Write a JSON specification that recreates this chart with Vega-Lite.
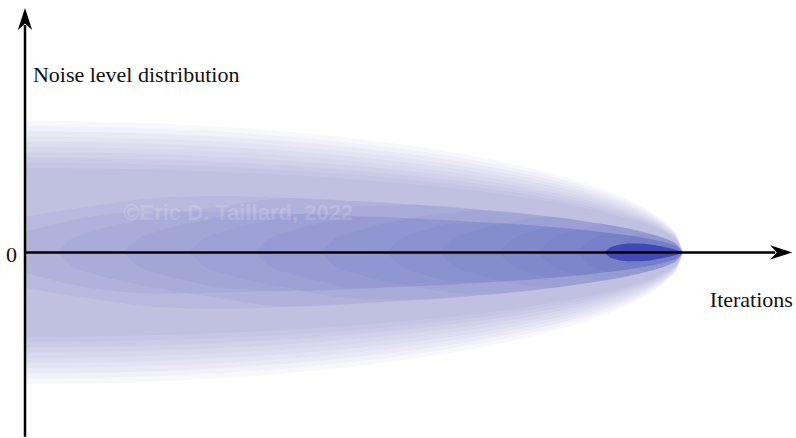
{
  "$schema": "https://vega.github.io/schema/vega-lite/v6.json",
  "width": 796,
  "height": 438,
  "padding": 0,
  "autosize": {"type": "fit", "contains": "padding"},
  "config": {"view": {"stroke": null}},
  "datasets": {
    "bands": [
      {"l":"O01","g":"o","x":0,"y":100,"lo":-100},{"l":"O01","g":"o","x":10,"y":99.5,"lo":-99.5},{"l":"O01","g":"o","x":20,"y":98,"lo":-98},{"l":"O01","g":"o","x":30,"y":95.4,"lo":-95.4},{"l":"O01","g":"o","x":40,"y":91.7,"lo":-91.7},{"l":"O01","g":"o","x":50,"y":86.6,"lo":-86.6},{"l":"O01","g":"o","x":60,"y":80,"lo":-80},{"l":"O01","g":"o","x":70,"y":71.4,"lo":-71.4},{"l":"O01","g":"o","x":80,"y":60,"lo":-60},{"l":"O01","g":"o","x":85,"y":52.7,"lo":-52.7},{"l":"O01","g":"o","x":90,"y":43.6,"lo":-43.6},{"l":"O01","g":"o","x":93,"y":36.8,"lo":-36.8},{"l":"O01","g":"o","x":96,"y":28,"lo":-28},{"l":"O01","g":"o","x":98,"y":19.9,"lo":-19.9},{"l":"O01","g":"o","x":99,"y":14.1,"lo":-14.1},{"l":"O01","g":"o","x":100,"y":0,"lo":0},
      {"l":"O02","g":"o","x":0,"y":96,"lo":-96},{"l":"O02","g":"o","x":10,"y":95.5,"lo":-95.5},{"l":"O02","g":"o","x":20,"y":94.1,"lo":-94.1},{"l":"O02","g":"o","x":30,"y":91.6,"lo":-91.6},{"l":"O02","g":"o","x":40,"y":88,"lo":-88},{"l":"O02","g":"o","x":50,"y":83.1,"lo":-83.1},{"l":"O02","g":"o","x":60,"y":76.8,"lo":-76.8},{"l":"O02","g":"o","x":70,"y":68.5,"lo":-68.5},{"l":"O02","g":"o","x":80,"y":57.6,"lo":-57.6},{"l":"O02","g":"o","x":85,"y":50.6,"lo":-50.6},{"l":"O02","g":"o","x":90,"y":41.9,"lo":-41.9},{"l":"O02","g":"o","x":93,"y":35.3,"lo":-35.3},{"l":"O02","g":"o","x":96,"y":26.9,"lo":-26.9},{"l":"O02","g":"o","x":98,"y":19.1,"lo":-19.1},{"l":"O02","g":"o","x":99,"y":13.5,"lo":-13.5},{"l":"O02","g":"o","x":100,"y":0,"lo":0},
      {"l":"O03","g":"o","x":0,"y":92,"lo":-92},{"l":"O03","g":"o","x":10,"y":91.5,"lo":-91.5},{"l":"O03","g":"o","x":20,"y":90.2,"lo":-90.2},{"l":"O03","g":"o","x":30,"y":87.8,"lo":-87.8},{"l":"O03","g":"o","x":40,"y":84.4,"lo":-84.4},{"l":"O03","g":"o","x":50,"y":79.7,"lo":-79.7},{"l":"O03","g":"o","x":60,"y":73.6,"lo":-73.6},{"l":"O03","g":"o","x":70,"y":65.7,"lo":-65.7},{"l":"O03","g":"o","x":80,"y":55.2,"lo":-55.2},{"l":"O03","g":"o","x":85,"y":48.5,"lo":-48.5},{"l":"O03","g":"o","x":90,"y":40.1,"lo":-40.1},{"l":"O03","g":"o","x":93,"y":33.9,"lo":-33.9},{"l":"O03","g":"o","x":96,"y":25.8,"lo":-25.8},{"l":"O03","g":"o","x":98,"y":18.3,"lo":-18.3},{"l":"O03","g":"o","x":99,"y":13,"lo":-13},{"l":"O03","g":"o","x":100,"y":0,"lo":0},
      {"l":"O04","g":"o","x":0,"y":88,"lo":-88},{"l":"O04","g":"o","x":10,"y":87.6,"lo":-87.6},{"l":"O04","g":"o","x":20,"y":86.2,"lo":-86.2},{"l":"O04","g":"o","x":30,"y":84,"lo":-84},{"l":"O04","g":"o","x":40,"y":80.7,"lo":-80.7},{"l":"O04","g":"o","x":50,"y":76.2,"lo":-76.2},{"l":"O04","g":"o","x":60,"y":70.4,"lo":-70.4},{"l":"O04","g":"o","x":70,"y":62.8,"lo":-62.8},{"l":"O04","g":"o","x":80,"y":52.8,"lo":-52.8},{"l":"O04","g":"o","x":85,"y":46.4,"lo":-46.4},{"l":"O04","g":"o","x":90,"y":38.4,"lo":-38.4},{"l":"O04","g":"o","x":93,"y":32.4,"lo":-32.4},{"l":"O04","g":"o","x":96,"y":24.6,"lo":-24.6},{"l":"O04","g":"o","x":98,"y":17.5,"lo":-17.5},{"l":"O04","g":"o","x":99,"y":12.4,"lo":-12.4},{"l":"O04","g":"o","x":100,"y":0,"lo":0},
      {"l":"O05","g":"o","x":0,"y":84,"lo":-84},{"l":"O05","g":"o","x":10,"y":83.6,"lo":-83.6},{"l":"O05","g":"o","x":20,"y":82.3,"lo":-82.3},{"l":"O05","g":"o","x":30,"y":80.1,"lo":-80.1},{"l":"O05","g":"o","x":40,"y":77,"lo":-77},{"l":"O05","g":"o","x":50,"y":72.7,"lo":-72.7},{"l":"O05","g":"o","x":60,"y":67.2,"lo":-67.2},{"l":"O05","g":"o","x":70,"y":60,"lo":-60},{"l":"O05","g":"o","x":80,"y":50.4,"lo":-50.4},{"l":"O05","g":"o","x":85,"y":44.3,"lo":-44.3},{"l":"O05","g":"o","x":90,"y":36.6,"lo":-36.6},{"l":"O05","g":"o","x":93,"y":30.9,"lo":-30.9},{"l":"O05","g":"o","x":96,"y":23.5,"lo":-23.5},{"l":"O05","g":"o","x":98,"y":16.7,"lo":-16.7},{"l":"O05","g":"o","x":99,"y":11.8,"lo":-11.8},{"l":"O05","g":"o","x":100,"y":0,"lo":0},
      {"l":"O06","g":"o","x":0,"y":80,"lo":-80},{"l":"O06","g":"o","x":10,"y":79.6,"lo":-79.6},{"l":"O06","g":"o","x":20,"y":78.4,"lo":-78.4},{"l":"O06","g":"o","x":30,"y":76.3,"lo":-76.3},{"l":"O06","g":"o","x":40,"y":73.4,"lo":-73.4},{"l":"O06","g":"o","x":50,"y":69.3,"lo":-69.3},{"l":"O06","g":"o","x":60,"y":64,"lo":-64},{"l":"O06","g":"o","x":70,"y":57.1,"lo":-57.1},{"l":"O06","g":"o","x":80,"y":48,"lo":-48},{"l":"O06","g":"o","x":85,"y":42.2,"lo":-42.2},{"l":"O06","g":"o","x":90,"y":34.9,"lo":-34.9},{"l":"O06","g":"o","x":93,"y":29.4,"lo":-29.4},{"l":"O06","g":"o","x":96,"y":22.4,"lo":-22.4},{"l":"O06","g":"o","x":98,"y":15.9,"lo":-15.9},{"l":"O06","g":"o","x":99,"y":11.3,"lo":-11.3},{"l":"O06","g":"o","x":100,"y":0,"lo":0},
      {"l":"O07","g":"o","x":0,"y":76,"lo":-76},{"l":"O07","g":"o","x":10,"y":75.6,"lo":-75.6},{"l":"O07","g":"o","x":20,"y":74.5,"lo":-74.5},{"l":"O07","g":"o","x":30,"y":72.5,"lo":-72.5},{"l":"O07","g":"o","x":40,"y":69.7,"lo":-69.7},{"l":"O07","g":"o","x":50,"y":65.8,"lo":-65.8},{"l":"O07","g":"o","x":60,"y":60.8,"lo":-60.8},{"l":"O07","g":"o","x":70,"y":54.3,"lo":-54.3},{"l":"O07","g":"o","x":80,"y":45.6,"lo":-45.6},{"l":"O07","g":"o","x":85,"y":40.1,"lo":-40.1},{"l":"O07","g":"o","x":90,"y":33.1,"lo":-33.1},{"l":"O07","g":"o","x":93,"y":28,"lo":-28},{"l":"O07","g":"o","x":96,"y":21.3,"lo":-21.3},{"l":"O07","g":"o","x":98,"y":15.1,"lo":-15.1},{"l":"O07","g":"o","x":99,"y":10.7,"lo":-10.7},{"l":"O07","g":"o","x":100,"y":0,"lo":0},
      {"l":"O08","g":"o","x":0,"y":72,"lo":-72},{"l":"O08","g":"o","x":10,"y":71.6,"lo":-71.6},{"l":"O08","g":"o","x":20,"y":70.6,"lo":-70.6},{"l":"O08","g":"o","x":30,"y":68.7,"lo":-68.7},{"l":"O08","g":"o","x":40,"y":66,"lo":-66},{"l":"O08","g":"o","x":50,"y":62.4,"lo":-62.4},{"l":"O08","g":"o","x":60,"y":57.6,"lo":-57.6},{"l":"O08","g":"o","x":70,"y":51.4,"lo":-51.4},{"l":"O08","g":"o","x":80,"y":43.2,"lo":-43.2},{"l":"O08","g":"o","x":85,"y":37.9,"lo":-37.9},{"l":"O08","g":"o","x":90,"y":31.4,"lo":-31.4},{"l":"O08","g":"o","x":93,"y":26.5,"lo":-26.5},{"l":"O08","g":"o","x":96,"y":20.2,"lo":-20.2},{"l":"O08","g":"o","x":98,"y":14.3,"lo":-14.3},{"l":"O08","g":"o","x":99,"y":10.2,"lo":-10.2},{"l":"O08","g":"o","x":100,"y":0,"lo":0},
      {"l":"O09","g":"o","x":0,"y":68,"lo":-68},{"l":"O09","g":"o","x":10,"y":67.7,"lo":-67.7},{"l":"O09","g":"o","x":20,"y":66.6,"lo":-66.6},{"l":"O09","g":"o","x":30,"y":64.9,"lo":-64.9},{"l":"O09","g":"o","x":40,"y":62.4,"lo":-62.4},{"l":"O09","g":"o","x":50,"y":58.9,"lo":-58.9},{"l":"O09","g":"o","x":60,"y":54.4,"lo":-54.4},{"l":"O09","g":"o","x":70,"y":48.6,"lo":-48.6},{"l":"O09","g":"o","x":80,"y":40.8,"lo":-40.8},{"l":"O09","g":"o","x":85,"y":35.8,"lo":-35.8},{"l":"O09","g":"o","x":90,"y":29.6,"lo":-29.6},{"l":"O09","g":"o","x":93,"y":25,"lo":-25},{"l":"O09","g":"o","x":96,"y":19,"lo":-19},{"l":"O09","g":"o","x":98,"y":13.5,"lo":-13.5},{"l":"O09","g":"o","x":99,"y":9.6,"lo":-9.6},{"l":"O09","g":"o","x":100,"y":0,"lo":0},
      {"l":"O10","g":"o","x":0,"y":64,"lo":-64},{"l":"O10","g":"o","x":10,"y":63.7,"lo":-63.7},{"l":"O10","g":"o","x":20,"y":62.7,"lo":-62.7},{"l":"O10","g":"o","x":30,"y":61.1,"lo":-61.1},{"l":"O10","g":"o","x":40,"y":58.7,"lo":-58.7},{"l":"O10","g":"o","x":50,"y":55.4,"lo":-55.4},{"l":"O10","g":"o","x":60,"y":51.2,"lo":-51.2},{"l":"O10","g":"o","x":70,"y":45.7,"lo":-45.7},{"l":"O10","g":"o","x":80,"y":38.4,"lo":-38.4},{"l":"O10","g":"o","x":85,"y":33.7,"lo":-33.7},{"l":"O10","g":"o","x":90,"y":27.9,"lo":-27.9},{"l":"O10","g":"o","x":93,"y":23.6,"lo":-23.6},{"l":"O10","g":"o","x":96,"y":17.9,"lo":-17.9},{"l":"O10","g":"o","x":98,"y":12.7,"lo":-12.7},{"l":"O10","g":"o","x":99,"y":9,"lo":-9},{"l":"O10","g":"o","x":100,"y":0,"lo":0},
      {"l":"J01","g":"i","x":0,"y":27.1,"lo":-27.1},{"l":"J01","g":"i","x":10,"y":35,"lo":-35},{"l":"J01","g":"i","x":20,"y":41.4,"lo":-41.4},{"l":"J01","g":"i","x":30,"y":42.9,"lo":-42.9},{"l":"J01","g":"i","x":40,"y":41.3,"lo":-41.3},{"l":"J01","g":"i","x":50,"y":39,"lo":-39},{"l":"J01","g":"i","x":60,"y":36,"lo":-36},{"l":"J01","g":"i","x":70,"y":32.1,"lo":-32.1},{"l":"J01","g":"i","x":80,"y":27,"lo":-27},{"l":"J01","g":"i","x":85,"y":23.7,"lo":-23.7},{"l":"J01","g":"i","x":90,"y":19.6,"lo":-19.6},{"l":"J01","g":"i","x":93,"y":16.6,"lo":-16.6},{"l":"J01","g":"i","x":96,"y":12.6,"lo":-12.6},{"l":"J01","g":"i","x":98,"y":9,"lo":-9},{"l":"J01","g":"i","x":99,"y":6.3,"lo":-6.3},{"l":"J01","g":"i","x":100,"y":0,"lo":0},
      {"l":"J02","g":"i","x":0,"y":15.7,"lo":-15.7},{"l":"J02","g":"i","x":10,"y":27.1,"lo":-27.1},{"l":"J02","g":"i","x":20,"y":31.4,"lo":-31.4},{"l":"J02","g":"i","x":30,"y":30.5,"lo":-30.5},{"l":"J02","g":"i","x":40,"y":29.3,"lo":-29.3},{"l":"J02","g":"i","x":50,"y":27.7,"lo":-27.7},{"l":"J02","g":"i","x":60,"y":25.6,"lo":-25.6},{"l":"J02","g":"i","x":70,"y":22.8,"lo":-22.8},{"l":"J02","g":"i","x":80,"y":19.2,"lo":-19.2},{"l":"J02","g":"i","x":85,"y":16.9,"lo":-16.9},{"l":"J02","g":"i","x":90,"y":14,"lo":-14},{"l":"J02","g":"i","x":93,"y":11.8,"lo":-11.8},{"l":"J02","g":"i","x":96,"y":9,"lo":-9},{"l":"J02","g":"i","x":98,"y":6.4,"lo":-6.4},{"l":"J02","g":"i","x":99,"y":4.5,"lo":-4.5},{"l":"J02","g":"i","x":100,"y":0,"lo":0},
      {"l":"J03","g":"i","x":5,"y":0,"lo":0},{"l":"J03","g":"i","x":7,"y":9.9,"lo":-9.9},{"l":"J03","g":"i","x":10,"y":15.7,"lo":-15.7},{"l":"J03","g":"i","x":15,"y":22.1,"lo":-22.1},{"l":"J03","g":"i","x":20,"y":27.1,"lo":-27.1},{"l":"J03","g":"i","x":30,"y":35,"lo":-35},{"l":"J03","g":"i","x":40,"y":41.3,"lo":-41.3},{"l":"J03","g":"i","x":50,"y":39,"lo":-39},{"l":"J03","g":"i","x":60,"y":36,"lo":-36},{"l":"J03","g":"i","x":70,"y":32.1,"lo":-32.1},{"l":"J03","g":"i","x":80,"y":27,"lo":-27},{"l":"J03","g":"i","x":85,"y":23.7,"lo":-23.7},{"l":"J03","g":"i","x":90,"y":19.6,"lo":-19.6},{"l":"J03","g":"i","x":93,"y":16.6,"lo":-16.6},{"l":"J03","g":"i","x":96,"y":12.6,"lo":-12.6},{"l":"J03","g":"i","x":98,"y":9,"lo":-9},{"l":"J03","g":"i","x":99,"y":6.3,"lo":-6.3},{"l":"J03","g":"i","x":100,"y":0,"lo":0},
      {"l":"J04","g":"i","x":15,"y":0,"lo":0},{"l":"J04","g":"i","x":17,"y":9.9,"lo":-9.9},{"l":"J04","g":"i","x":20,"y":15.7,"lo":-15.7},{"l":"J04","g":"i","x":25,"y":22.1,"lo":-22.1},{"l":"J04","g":"i","x":30,"y":27.1,"lo":-27.1},{"l":"J04","g":"i","x":40,"y":29.3,"lo":-29.3},{"l":"J04","g":"i","x":50,"y":27.7,"lo":-27.7},{"l":"J04","g":"i","x":60,"y":25.6,"lo":-25.6},{"l":"J04","g":"i","x":70,"y":22.8,"lo":-22.8},{"l":"J04","g":"i","x":80,"y":19.2,"lo":-19.2},{"l":"J04","g":"i","x":85,"y":16.9,"lo":-16.9},{"l":"J04","g":"i","x":90,"y":14,"lo":-14},{"l":"J04","g":"i","x":93,"y":11.8,"lo":-11.8},{"l":"J04","g":"i","x":96,"y":9,"lo":-9},{"l":"J04","g":"i","x":98,"y":6.4,"lo":-6.4},{"l":"J04","g":"i","x":99,"y":4.5,"lo":-4.5},{"l":"J04","g":"i","x":100,"y":0,"lo":0},
      {"l":"J05","g":"i","x":25,"y":0,"lo":0},{"l":"J05","g":"i","x":27,"y":9.9,"lo":-9.9},{"l":"J05","g":"i","x":30,"y":15.7,"lo":-15.7},{"l":"J05","g":"i","x":35,"y":22.1,"lo":-22.1},{"l":"J05","g":"i","x":40,"y":27.1,"lo":-27.1},{"l":"J05","g":"i","x":50,"y":35,"lo":-35},{"l":"J05","g":"i","x":60,"y":36,"lo":-36},{"l":"J05","g":"i","x":70,"y":32.1,"lo":-32.1},{"l":"J05","g":"i","x":80,"y":27,"lo":-27},{"l":"J05","g":"i","x":85,"y":23.7,"lo":-23.7},{"l":"J05","g":"i","x":90,"y":19.6,"lo":-19.6},{"l":"J05","g":"i","x":93,"y":16.6,"lo":-16.6},{"l":"J05","g":"i","x":96,"y":12.6,"lo":-12.6},{"l":"J05","g":"i","x":98,"y":9,"lo":-9},{"l":"J05","g":"i","x":99,"y":6.3,"lo":-6.3},{"l":"J05","g":"i","x":100,"y":0,"lo":0},
      {"l":"J06","g":"i","x":35,"y":0,"lo":0},{"l":"J06","g":"i","x":37,"y":9.9,"lo":-9.9},{"l":"J06","g":"i","x":40,"y":15.7,"lo":-15.7},{"l":"J06","g":"i","x":45,"y":22.1,"lo":-22.1},{"l":"J06","g":"i","x":50,"y":27.1,"lo":-27.1},{"l":"J06","g":"i","x":60,"y":25.6,"lo":-25.6},{"l":"J06","g":"i","x":70,"y":22.8,"lo":-22.8},{"l":"J06","g":"i","x":80,"y":19.2,"lo":-19.2},{"l":"J06","g":"i","x":85,"y":16.9,"lo":-16.9},{"l":"J06","g":"i","x":90,"y":14,"lo":-14},{"l":"J06","g":"i","x":93,"y":11.8,"lo":-11.8},{"l":"J06","g":"i","x":96,"y":9,"lo":-9},{"l":"J06","g":"i","x":98,"y":6.4,"lo":-6.4},{"l":"J06","g":"i","x":99,"y":4.5,"lo":-4.5},{"l":"J06","g":"i","x":100,"y":0,"lo":0},
      {"l":"J07","g":"i","x":45,"y":0,"lo":0},{"l":"J07","g":"i","x":47,"y":9.9,"lo":-9.9},{"l":"J07","g":"i","x":50,"y":15.7,"lo":-15.7},{"l":"J07","g":"i","x":55,"y":22.1,"lo":-22.1},{"l":"J07","g":"i","x":60,"y":27.1,"lo":-27.1},{"l":"J07","g":"i","x":70,"y":32.1,"lo":-32.1},{"l":"J07","g":"i","x":80,"y":27,"lo":-27},{"l":"J07","g":"i","x":85,"y":23.7,"lo":-23.7},{"l":"J07","g":"i","x":90,"y":19.6,"lo":-19.6},{"l":"J07","g":"i","x":93,"y":16.6,"lo":-16.6},{"l":"J07","g":"i","x":96,"y":12.6,"lo":-12.6},{"l":"J07","g":"i","x":98,"y":9,"lo":-9},{"l":"J07","g":"i","x":99,"y":6.3,"lo":-6.3},{"l":"J07","g":"i","x":100,"y":0,"lo":0},
      {"l":"J08","g":"i","x":55,"y":0,"lo":0},{"l":"J08","g":"i","x":57,"y":9.9,"lo":-9.9},{"l":"J08","g":"i","x":60,"y":15.7,"lo":-15.7},{"l":"J08","g":"i","x":65,"y":22.1,"lo":-22.1},{"l":"J08","g":"i","x":70,"y":22.8,"lo":-22.8},{"l":"J08","g":"i","x":80,"y":19.2,"lo":-19.2},{"l":"J08","g":"i","x":85,"y":16.9,"lo":-16.9},{"l":"J08","g":"i","x":90,"y":14,"lo":-14},{"l":"J08","g":"i","x":93,"y":11.8,"lo":-11.8},{"l":"J08","g":"i","x":96,"y":9,"lo":-9},{"l":"J08","g":"i","x":98,"y":6.4,"lo":-6.4},{"l":"J08","g":"i","x":99,"y":4.5,"lo":-4.5},{"l":"J08","g":"i","x":100,"y":0,"lo":0},
      {"l":"J09","g":"i","x":63,"y":0,"lo":0},{"l":"J09","g":"i","x":65,"y":9.9,"lo":-9.9},{"l":"J09","g":"i","x":68,"y":15.7,"lo":-15.7},{"l":"J09","g":"i","x":73,"y":22.1,"lo":-22.1},{"l":"J09","g":"i","x":80,"y":27,"lo":-27},{"l":"J09","g":"i","x":85,"y":23.7,"lo":-23.7},{"l":"J09","g":"i","x":90,"y":19.6,"lo":-19.6},{"l":"J09","g":"i","x":93,"y":16.6,"lo":-16.6},{"l":"J09","g":"i","x":96,"y":12.6,"lo":-12.6},{"l":"J09","g":"i","x":98,"y":9,"lo":-9},{"l":"J09","g":"i","x":99,"y":6.3,"lo":-6.3},{"l":"J09","g":"i","x":100,"y":0,"lo":0},
      {"l":"J10","g":"i","x":72,"y":0,"lo":0},{"l":"J10","g":"i","x":74,"y":9.9,"lo":-9.9},{"l":"J10","g":"i","x":77,"y":15.7,"lo":-15.7},{"l":"J10","g":"i","x":80,"y":19.2,"lo":-19.2},{"l":"J10","g":"i","x":85,"y":16.9,"lo":-16.9},{"l":"J10","g":"i","x":90,"y":14,"lo":-14},{"l":"J10","g":"i","x":93,"y":11.8,"lo":-11.8},{"l":"J10","g":"i","x":96,"y":9,"lo":-9},{"l":"J10","g":"i","x":98,"y":6.4,"lo":-6.4},{"l":"J10","g":"i","x":99,"y":4.5,"lo":-4.5},{"l":"J10","g":"i","x":100,"y":0,"lo":0},
      {"l":"J11","g":"i","x":78,"y":0,"lo":0},{"l":"J11","g":"i","x":80,"y":9.9,"lo":-9.9},{"l":"J11","g":"i","x":83,"y":15.7,"lo":-15.7},{"l":"J11","g":"i","x":85,"y":18.5,"lo":-18.5},{"l":"J11","g":"i","x":88,"y":21.4,"lo":-21.4},{"l":"J11","g":"i","x":90,"y":19.6,"lo":-19.6},{"l":"J11","g":"i","x":93,"y":16.6,"lo":-16.6},{"l":"J11","g":"i","x":96,"y":12.6,"lo":-12.6},{"l":"J11","g":"i","x":98,"y":9,"lo":-9},{"l":"J11","g":"i","x":99,"y":6.3,"lo":-6.3},{"l":"J11","g":"i","x":100,"y":0,"lo":0},
      {"l":"J12","g":"i","x":84,"y":0,"lo":0},{"l":"J12","g":"i","x":86,"y":9.9,"lo":-9.9},{"l":"J12","g":"i","x":89,"y":14.6,"lo":-14.6},{"l":"J12","g":"i","x":90,"y":14,"lo":-14},{"l":"J12","g":"i","x":93,"y":11.8,"lo":-11.8},{"l":"J12","g":"i","x":96,"y":9,"lo":-9},{"l":"J12","g":"i","x":98,"y":6.4,"lo":-6.4},{"l":"J12","g":"i","x":99,"y":4.5,"lo":-4.5},{"l":"J12","g":"i","x":100,"y":0,"lo":0},
      {"l":"J13","g":"i","x":90,"y":0,"lo":0},{"l":"J13","g":"i","x":92,"y":9.9,"lo":-9.9},{"l":"J13","g":"i","x":94,"y":14,"lo":-14},{"l":"J13","g":"i","x":96,"y":12.6,"lo":-12.6},{"l":"J13","g":"i","x":98,"y":9,"lo":-9},{"l":"J13","g":"i","x":99,"y":6.3,"lo":-6.3},{"l":"J13","g":"i","x":100,"y":0,"lo":0},
      {"l":"B","g":"b","x":88,"y":0,"lo":0},{"l":"B","g":"b","x":89,"y":4,"lo":-4},{"l":"B","g":"b","x":90,"y":5.5,"lo":-5.5},{"l":"B","g":"b","x":92,"y":6.8,"lo":-6.8},{"l":"B","g":"b","x":94,"y":6.6,"lo":-6.6},{"l":"B","g":"b","x":96,"y":5.2,"lo":-5.2},{"l":"B","g":"b","x":98,"y":3.2,"lo":-3.2},{"l":"B","g":"b","x":99,"y":1.8,"lo":-1.8},{"l":"B","g":"b","x":100,"y":0,"lo":0}
    ],
    "axes": [
      {"x": 0, "y": -140, "x2": 0, "y2": 172.7},
      {"x": 0, "y": 0, "x2": 114, "y2": 0}
    ],
    "heads": [
      {"dir": "up", "x": 0, "y": 185.6},
      {"dir": "right", "x": 116.6, "y": 0}
    ]
  },
  "encoding": {
    "x": {"field": "x", "type": "quantitative", "axis": null, "scale": {"domain": [-3.8, 117.17], "nice": false, "zero": false}},
    "y": {"field": "y", "type": "quantitative", "axis": null, "scale": {"domain": [-140.2, 191.7], "nice": false, "zero": false}}
  },
  "layer": [
    {
      "data": {"name": "bands"},
      "mark": {"type": "area", "interpolate": "monotone", "color": "#3a40b4"},
      "encoding": {
        "y": {"field": "y", "type": "quantitative", "stack": null, "axis": null, "scale": {"domain": [-140.2, 191.7], "nice": false, "zero": false}},
        "y2": {"field": "lo"},
        "detail": {"field": "l", "type": "nominal"},
        "opacity": {"field": "g", "type": "nominal", "scale": {"type": "ordinal", "domain": ["o", "i", "b"], "range": [0.035, 0.055, 0.85]}, "legend": null}
      }
    },
    {
      "data": {"values": [{"t": "©Eric D. Taillard, 2022", "x": 32.4, "y": 30.3}]},
      "mark": {"type": "text", "font": "Liberation Sans", "fontWeight": "bold", "fontSize": 22, "color": "white", "opacity": 0.15, "align": "center", "baseline": "middle"},
      "encoding": {"text": {"field": "t"}}
    },
    {
      "data": {"name": "axes"},
      "mark": {"type": "rule", "color": "black", "strokeWidth": 2.5},
      "encoding": {"x2": {"field": "x2"}, "y2": {"field": "y2"}}
    },
    {
      "data": {"name": "heads"},
      "mark": {"type": "point", "filled": true, "opacity": 1, "color": "black", "size": 484},
      "encoding": {
        "shape": {"field": "dir", "type": "nominal", "scale": {"domain": ["up", "right"], "range": ["M0,0 L-0.65,2 L0,1.4 L0.65,2 Z", "M0,0 L-2,-0.65 L-1.4,0 L-2,0.65 Z"]}, "legend": null}
      }
    },
    {
      "data": {"values": [{"t": "Noise level distribution", "x": 1.2, "y": 129.5}]},
      "mark": {"type": "text", "font": "Liberation Serif", "fontSize": 22, "color": "#111", "align": "left", "baseline": "alphabetic"},
      "encoding": {"text": {"field": "t"}}
    },
    {
      "data": {"values": [{"t": "0", "x": -1.2, "y": -7.2}]},
      "mark": {"type": "text", "font": "Liberation Serif", "fontSize": 22, "color": "#111", "align": "right", "baseline": "alphabetic"},
      "encoding": {"text": {"field": "t"}}
    },
    {
      "data": {"values": [{"t": "Iterations", "x": 116.7, "y": -41.7}]},
      "mark": {"type": "text", "font": "Liberation Serif", "fontSize": 22, "color": "#111", "align": "right", "baseline": "alphabetic"},
      "encoding": {"text": {"field": "t"}}
    }
  ]
}
